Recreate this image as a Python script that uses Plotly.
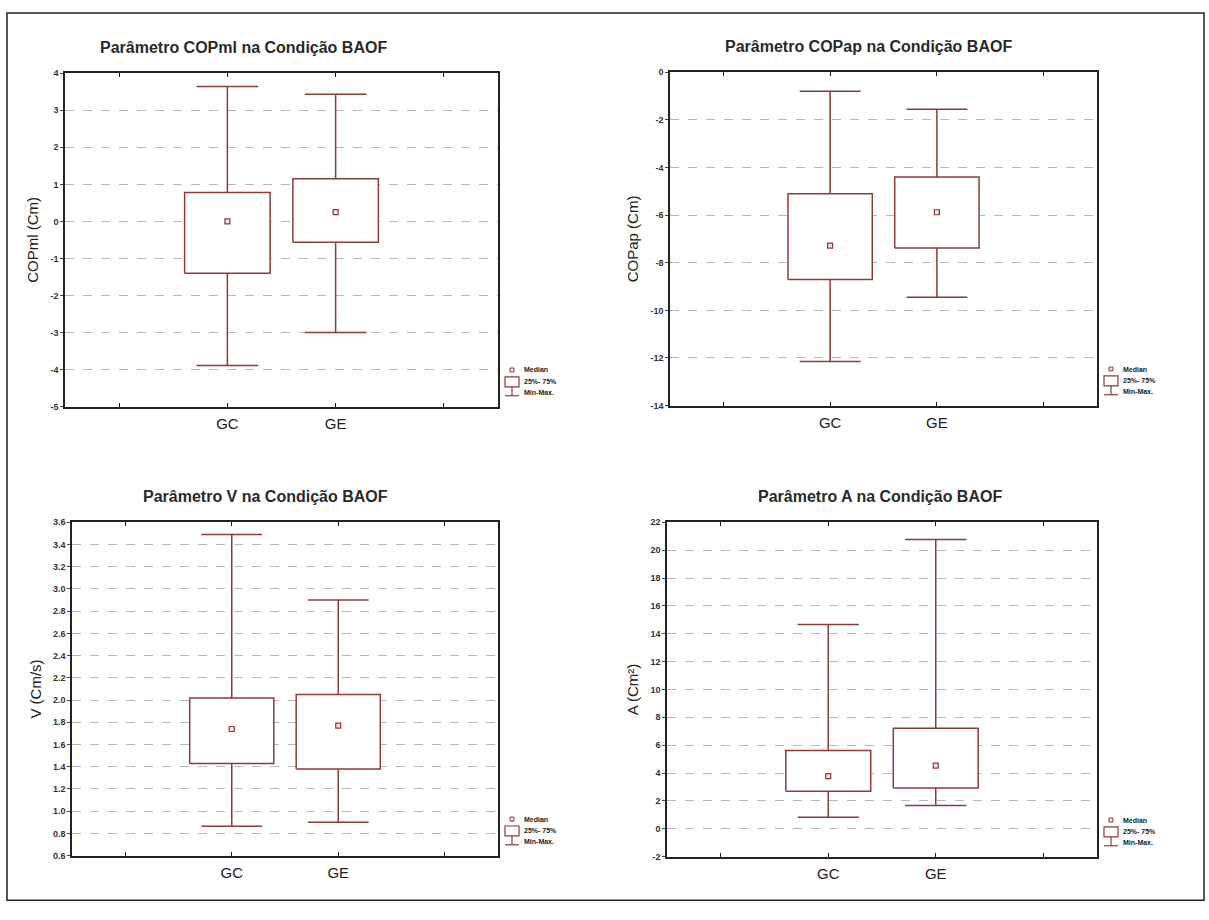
import plotly.graph_objects as go

# ---- data ----
groups = ["GC", "GE"]

copml_min = [-3.89, -3.00]
copml_q1 = [-1.40, -0.56]
copml_med = [0.00, 0.25]
copml_q3 = [0.78, 1.15]
copml_max = [3.64, 3.43]

copap_min = [-12.15, -9.45]
copap_q1 = [-8.70, -7.38]
copap_med = [-7.28, -5.88]
copap_q3 = [-5.10, -4.40]
copap_max = [-0.80, -1.55]

v_min = [0.865, 0.90]
v_q1 = [1.43, 1.38]
v_med = [1.74, 1.77]
v_q3 = [2.02, 2.05]
v_max = [3.49, 2.90]

a_min = [0.82, 1.67]
a_q1 = [2.69, 2.92]
a_med = [3.78, 4.53]
a_q3 = [5.62, 7.21]
a_max = [14.66, 20.77]

titles = [
    "Parâmetro COPml na Condição BAOF",
    "Parâmetro COPap na Condição BAOF",
    "Parâmetro V na Condição BAOF",
    "Parâmetro A na Condição BAOF",
]
ytitles = ["COPml (Cm)", "COPap (Cm)", "V (Cm/s)", "A (Cm²)"]

copml_ticks = [4, 3, 2, 1, 0, -1, -2, -3, -4, -5]
copap_ticks = [0, -2, -4, -6, -8, -10, -12, -14]
v_ticks = [3.6, 3.4, 3.2, 3.0, 2.8, 2.6, 2.4, 2.2, 2.0, 1.8, 1.6, 1.4, 1.2, 1.0, 0.8, 0.6]
a_ticks = [22, 20, 18, 16, 14, 12, 10, 8, 6, 4, 2, 0, -2]

legend_labels = ["Median", "25%- 75%", "Min-Max."]

# ---- styling ----
W, H = 1209, 920
LINE = "#8c3b3b"
FONT = "Liberation Sans, Arial, sans-serif"
BOX_HALF = 0.395
CAP_HALF = 0.285


def px(x):
    return x / W


def py(y):
    return 1 - y / H


# plot areas in pixels: (left, right, top, bottom)
areas = [
    (65, 498, 69, 406),
    (670, 1097, 68, 405),
    (72, 498, 523, 860),
    (667, 1097, 523, 861),
]
title_centres = [243, 868, 265, 880]

panels = [
    (copml_min, copml_q1, copml_med, copml_q3, copml_max, copml_ticks, "%d"),
    (copap_min, copap_q1, copap_med, copap_q3, copap_max, copap_ticks, "%d"),
    (v_min, v_q1, v_med, v_q3, v_max, v_ticks, "%.1f"),
    (a_min, a_q1, a_med, a_q3, a_max, a_ticks, "%d"),
]

fig = go.Figure()
shapes = []
annotations = []

for i, (mn, q1, md, q3, mx, ticks, fmt) in enumerate(panels):
    k = "" if i == 0 else str(i + 1)
    xa, ya = "x" + k, "y" + k
    pos = [g + 1 for g in range(len(groups))]

    # whisker stems
    sx, sy = [], []
    for p, a, b in zip(pos, mn, mx):
        sx += [p, p, None]
        sy += [a, b, None]
    fig.add_trace(go.Scatter(x=sx, y=sy, mode="lines", line=dict(color=LINE, width=1.5),
                             xaxis=xa, yaxis=ya, hoverinfo="skip"))
    # whisker caps
    cx, cy = [], []
    for p, a, b in zip(pos, mn, mx):
        cx += [p - CAP_HALF, p + CAP_HALF, None, p - CAP_HALF, p + CAP_HALF, None]
        cy += [a, a, None, b, b, None]
    fig.add_trace(go.Scatter(x=cx, y=cy, mode="lines", line=dict(color=LINE, width=1.5),
                             xaxis=xa, yaxis=ya, hoverinfo="skip"))
    # boxes
    for p, lo, hi in zip(pos, q1, q3):
        fig.add_trace(go.Scatter(
            x=[p - BOX_HALF, p + BOX_HALF, p + BOX_HALF, p - BOX_HALF, p - BOX_HALF],
            y=[lo, lo, hi, hi, lo], mode="lines", fill="toself", fillcolor="white",
            line=dict(color=LINE, width=1.5), xaxis=xa, yaxis=ya, hoverinfo="skip"))
    # medians
    fig.add_trace(go.Scatter(x=pos, y=md, mode="markers",
                             marker=dict(symbol="square", size=5, color="#f3e3e3",
                                         line=dict(color=LINE, width=1.2)),
                             xaxis=xa, yaxis=ya, hoverinfo="skip"))

    l, r, t, b = areas[i]
    lo_t, hi_t = min(ticks), max(ticks)
    n = len(groups)
    fig.layout["xaxis" + k] = dict(
        domain=[px(l), px(r)], anchor=ya, range=[-0.5, n + 1.5],
        tickvals=[0] + pos + [n + 1], ticktext=[""] + groups + [""],
        ticks="inside", ticklen=4, tickcolor="#222", mirror="ticks",
        showline=True, linecolor="#222", linewidth=1.5, showgrid=False, zeroline=False,
        tickfont=dict(family=FONT, size=15, color="#222"), ticklabelstandoff=3,
        fixedrange=True,
    )
    fig.layout["yaxis" + k] = dict(
        domain=[py(b), py(t)], anchor=xa, range=[lo_t, hi_t],
        tickvals=ticks, ticktext=[fmt % v for v in ticks],
        ticks="outside", ticklen=3, tickcolor="#444",
        showline=True, linecolor="#222", linewidth=1.5, mirror=True,
        showgrid=True, gridcolor="#b8b8b8", gridwidth=1, griddash="dash", zeroline=False,
        tickfont=dict(family=FONT, size=9, color="#333", weight="bold"),
        title=dict(text=ytitles[i], font=dict(family=FONT, size=15, color="#222"), standoff=8),
        fixedrange=True,
    )

    # panel title
    annotations.append(dict(text=titles[i], x=px(title_centres[i]), y=py(t - 26), xref="paper", yref="paper",
                            showarrow=False, xanchor="center", yanchor="middle",
                            font=dict(family=FONT, size=16, color="#2a2a2a", weight="bold")))

    # legend block to the right of the plot
    lx = r + 14
    ly = b - 37
    shapes.append(dict(type="rect", xref="paper", yref="paper",
                       x0=px(lx - 2), x1=px(lx + 2), y0=py(ly + 2), y1=py(ly - 2),
                       line=dict(color=LINE, width=1), fillcolor="#f3e3e3"))
    shapes.append(dict(type="rect", xref="paper", yref="paper",
                       x0=px(lx - 7), x1=px(lx + 7), y0=py(ly + 17), y1=py(ly + 7),
                       line=dict(color=LINE, width=1.2), fillcolor="white"))
    shapes.append(dict(type="line", xref="paper", yref="paper",
                       x0=px(lx), x1=px(lx), y0=py(ly + 17), y1=py(ly + 26),
                       line=dict(color=LINE, width=1.2)))
    shapes.append(dict(type="line", xref="paper", yref="paper",
                       x0=px(lx - 7), x1=px(lx + 7), y0=py(ly + 26), y1=py(ly + 26),
                       line=dict(color=LINE, width=1.2)))
    for j, lab in enumerate(legend_labels):
        annotations.append(dict(text=lab, x=px(lx + 10), y=py(ly + j * 11.5), xref="paper", yref="paper",
                                showarrow=False, xanchor="left", yanchor="middle",
                                font=dict(family=FONT, size=7, color="#222", weight="bold")))

# outer frame
shapes.append(dict(type="rect", xref="paper", yref="paper", x0=px(7), x1=px(1204), y0=py(905), y1=py(8),
                   line=dict(color="#222", width=1.5)))

fig.update_layout(
    width=W, height=H, margin=dict(l=0, r=0, t=0, b=0),
    paper_bgcolor="white", plot_bgcolor="white", showlegend=False,
    shapes=shapes, annotations=annotations,
)

fig.write_html("out.html")
